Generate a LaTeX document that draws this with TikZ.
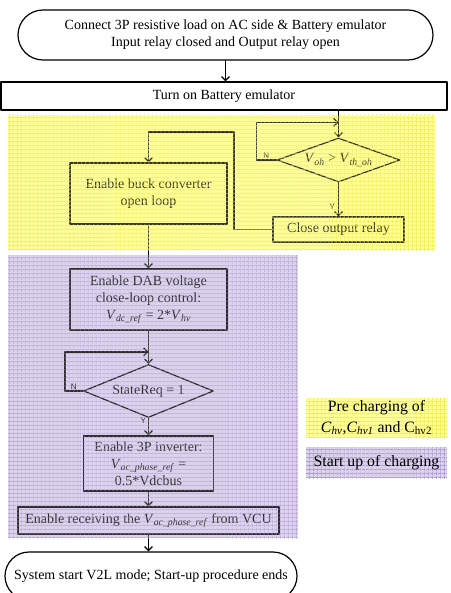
\documentclass[tikz,border=0pt]{standalone}
\usepackage{fontspec}
\setmainfont{Liberation Serif}
\setsansfont{Liberation Sans}
\usepackage{tikz}
\usetikzlibrary{arrows.meta, calc, shapes, patterns.meta}
\definecolor{preyellow}{RGB}{255, 255, 150}
\definecolor{pregrid}{RGB}{236, 226, 30}
\definecolor{startpurple}{RGB}{220, 210, 238}
\definecolor{startgrid}{RGB}{150, 128, 196}
\newcommand{\vsub}[2]{\textit{#1}\textsubscript{\textit{#2}}}

\begin{document}
\begin{tikzpicture}[x=1pt, y=-1pt, line cap=round, line join=round, >={Straight Barb[length=4pt,width=8pt]},
    font=\fontsize{14}{17}\selectfont,
    procbox/.style={draw, line width=1.2pt, align=center, inner sep=0pt},
    termbox/.style={procbox, rounded corners=24pt},
    decbox/.style={draw, diamond, line width=1.2pt, inner sep=0pt, align=center},
    flow/.style={->, line width=1.2pt},
    yn/.style={font=\sffamily\fontsize{8}{9}\selectfont, inner sep=1pt},
    gridh/.style={pattern={Lines[distance=4pt, line width=0.7pt]}},
    gridv/.style={pattern={Lines[angle=90, distance=4pt, line width=0.7pt]}},
    legendbox/.style={align=center, inner sep=0pt, font=\fontsize{15.8}{21}\selectfont}]
    \useasboundingbox (0,0) rectangle (450,593);

    % coloured phases, behind
    \fill[preyellow] (8,115) rectangle (435,250);
    \fill[startpurple] (8,255) rectangle (298,538);

    \node[termbox, rounded corners=25pt, minimum width=415pt, minimum height=50pt] (start) at (225.5,35)
        {Connect 3P resistive load on AC side \& Battery emulator\\Input relay closed and Output relay open};
    \node[procbox, minimum width=446pt, minimum height=28pt] (battery) at (224,96) {Turn on Battery emulator};

    \node[decbox, aspect=2.8, minimum width=123pt, minimum height=44pt] (vcheck) at (338.5,160) {\vsub{V}{oh} > \vsub{V}{th\_oh}};
    \node[procbox, minimum width=131pt, minimum height=25pt] (relay) at (338.5,229.5) {Close output relay};
    \node[procbox, minimum width=157pt, minimum height=61pt] (buck) at (148.5,193.5) {Enable buck converter\\open loop};

    \node[procbox, minimum width=157pt, minimum height=61pt] (dab) at (148.5,299.5)
        {Enable DAB voltage\\close-loop control:\\\vsub{V}{dc\_ref} = 2*\vsub{V}{hv}};
    \node[decbox, aspect=2.45, minimum width=130pt, minimum height=53pt] (statereq) at (148.5,391) {StateReq = 1};
    \node[procbox, minimum width=130pt, minimum height=55pt] (inverter) at (148.5,463.5)
        {Enable 3P inverter:\\\vsub{V}{ac\_phase\_ref} =\\0.5*Vdcbus};
    \node[procbox, minimum width=261pt, minimum height=27pt] (receive) at (148.5,520.5)
        {Enable receiving the \vsub{V}{ac\_phase\_ref} from VCU};
    \node[termbox, minimum width=292pt, minimum height=48pt] (finish) at (151,576)
        {System start V2L mode; Start-up procedure ends};

    \coordinate (vmerge) at ($(vcheck.north)+(0,-15)$);
    \coordinate (rturn) at (234,132);
    \coordinate (smerge) at ($(statereq.north)+(0,-12)$);

    \draw[flow] (start.south) -- (start.south |- battery.north);
    \draw[flow] (battery.south -| vcheck.north) -- (vcheck.north);
    \draw[flow] (vcheck.west) -- ++(-20,0) |- (vmerge);
    \node[yn, anchor=south east] (vno) at ($(vcheck.west)+(-6,0)$) {N};
    \draw[flow] (vcheck) -- (relay) node[yn, pos=0.7, left=2pt] (vyes) {Y};
    \draw[flow] (relay.west) -| (rturn) -| (buck.north);
    \draw[flow] (buck) -- (dab);
    \draw[flow] (dab) -- (statereq);
    \draw[flow] (statereq.west) -- ++(-18,0) |- (smerge);
    \node[yn, anchor=south east] (sno) at ($(statereq.west)+(-5,0)$) {N};
    \draw[flow] (statereq) -- (inverter) node[yn, pos=0.15, left=1pt] (syes) {Y};
    \draw[flow] (inverter) -- (receive);
    \draw[flow] (receive.south) -- (receive.south |- finish.north);

    % phases, veil and grid on top
    \fill[preyellow, opacity=0.2] (8,115) rectangle (435,250);
    \fill[gridh, pattern color=pregrid, opacity=0.75] (8,115) rectangle (435,250);
    \fill[gridv, pattern color=pregrid, opacity=0.75] (8,115) rectangle (435,250);
    \fill[startpurple, opacity=0.2] (8,255) rectangle (298,538);
    \fill[gridh, pattern color=startgrid, opacity=0.6] (8,255) rectangle (298,538);
    \fill[gridv, pattern color=startgrid, opacity=0.6] (8,255) rectangle (298,538);

    % legend
    \node[legendbox, preaction={fill=preyellow}, preaction={gridh, pattern color=pregrid},
        gridv, pattern color=pregrid, minimum width=141pt, minimum height=39pt] (prelegend) at (376.5,417.5)
        {Pre charging of\\\vsub{C}{hv},\vsub{C}{hv1} and C\textsubscript{hv2}};
    \node[legendbox, preaction={fill=startpurple}, preaction={gridh, pattern color=startgrid},
        gridv, pattern color=startgrid, minimum width=141pt, minimum height=31pt] (startlegend) at (376.5,462.5)
        {Start up of charging};
\end{tikzpicture}
\end{document}
